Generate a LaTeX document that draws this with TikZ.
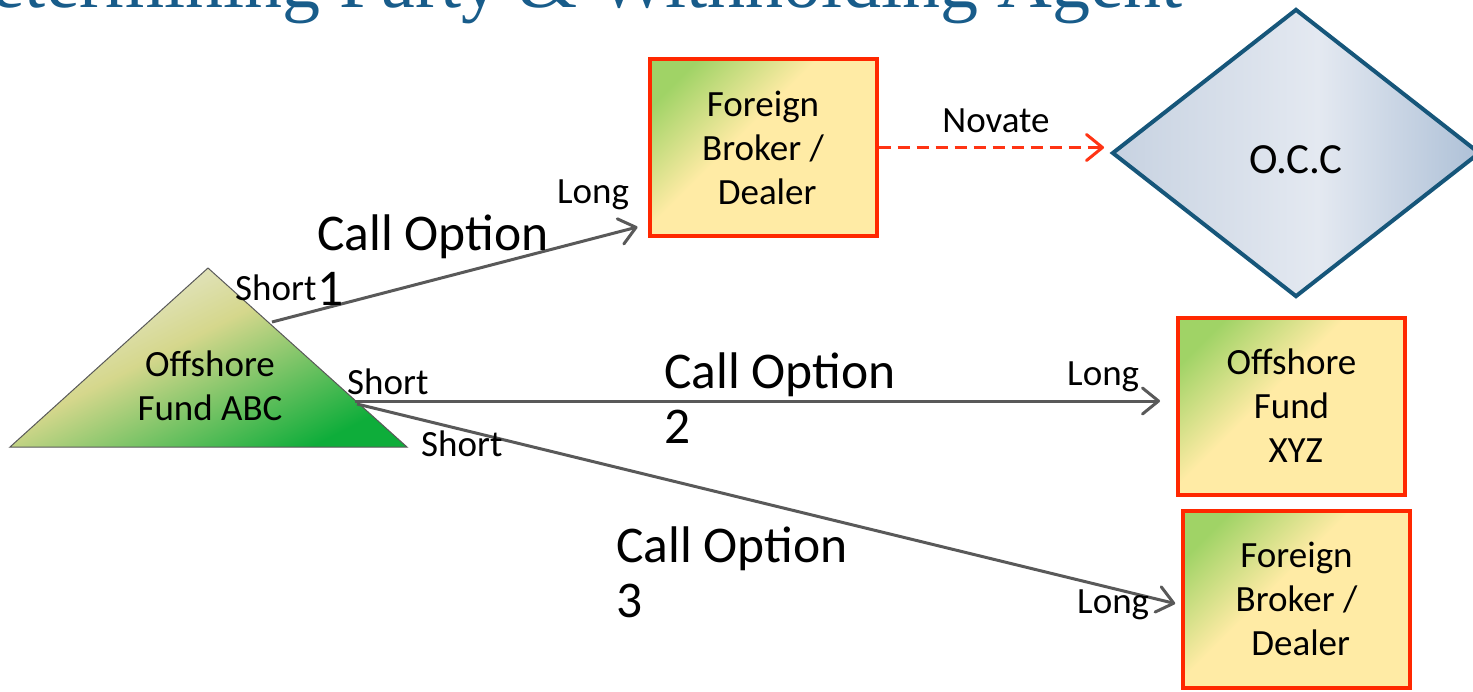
\documentclass[tikz,border=0pt]{standalone}
\usepackage{fontspec}
\setmainfont{Carlito}
\newfontfamily\titlefont{Liberation Serif}
\usetikzlibrary{shapes.geometric, arrows.meta, calc}

\definecolor{heading}{RGB}{24,92,138}
\definecolor{framered}{RGB}{255,40,0}
\definecolor{novatered}{RGB}{255,52,20}
\definecolor{legray}{RGB}{89,89,89}
\definecolor{occblue}{RGB}{22,86,122}
\definecolor{occlight}{RGB}{228,233,241}
\definecolor{occmid}{RGB}{199,210,225}
\definecolor{occdark}{RGB}{176,194,216}
\definecolor{leafgreen}{RGB}{160,211,102}
\definecolor{paleyellow}{RGB}{255,235,165}
\definecolor{apexpale}{RGB}{228,230,200}
\definecolor{olive}{RGB}{213,215,140}
\definecolor{fundgreen}{RGB}{14,173,58}

\pgfdeclarehorizontalshading{boxfade}{100bp}{color(0bp)=(leafgreen); color(23bp)=(leafgreen); color(44bp)=(paleyellow); color(100bp)=(paleyellow)}
\pgfdeclarehorizontalshading{fundfade}{100bp}{color(0bp)=(apexpale); color(30bp)=(apexpale); color(45bp)=(olive); color(75bp)=(fundgreen); color(100bp)=(fundgreen)}
\pgfdeclarehorizontalshading{occfade}{100bp}{color(0bp)=(occmid); color(25bp)=(occmid); color(53bp)=(occlight); color(74bp)=(occdark); color(100bp)=(occdark)}

\newcommand\tagfont{\fontsize{37}{44}\selectfont}
\newcommand\optfont{\fontsize{51.5}{55}\selectfont}

\begin{document}
\begin{tikzpicture}
      [
        x=1pt, y=1pt,
        party/.style={rectangle, draw=framered, line width=4pt, shading=boxfade, shading angle=-45,
          minimum width=227pt, minimum height=177pt, align=center, font=\tagfont, inner sep=0pt},
        tag/.style={anchor=base west, inner sep=0pt, font=\tagfont},
        option/.style={anchor=base west, inner sep=0pt, align=left, font=\optfont},
        leg/.style={draw=legray, line width=3pt, -{Straight Barb[length=16pt,width=26pt,round]}},
        novate/.style={draw=novatered, line width=3pt, dash pattern=on 12pt off 7pt,
          -{Straight Barb[length=16pt,width=26pt,round]}}
      ]
      \clip (0,0) rectangle (1473,-691);
      % heading, cut off by the page top
      \node [anchor=base east, inner sep=0pt, text=heading, font=\titlefont\fontsize{76}{82}\selectfont]
        (title) at (1183,-7) {Determining Party \& Withholding Agent};
      % fund ABC
      \coordinate (apex) at (208,-268);
      \coordinate (baseL) at (10,-447);
      \coordinate (baseR) at (407,-447);
      \shade [draw=black!65, line width=1pt, shading=fundfade, shading angle=-63]
        (apex) -- (baseR) -- (baseL) -- cycle;
      \node [align=center, font=\tagfont, inner sep=0pt] (abc) at (210,-386) {Offshore\\Fund ABC};
      % counterparties
      \node [party] (fbd1) at (763,-147.5) {Foreign\\Broker /\\\ Dealer};
      \node [party] (xyz) at (1291.5,-406) {Offshore\\Fund\\\ XYZ};
      \node [party] (fbd2) at (1296.5,-599) {Foreign\\Broker /\\\ Dealer};
      \node [diamond, draw=occblue, line width=4pt, shading=occfade,
        minimum width=368pt, minimum height=288pt, inner sep=0pt, text height=41pt, text depth=0pt,
        font=\fontsize{43}{50}\selectfont]
        (occ) at (1296,-153) {O.C.C};
      % option legs
      \coordinate (s1) at (272,-322);
      \coordinate (s2) at (355,-401);
      \coordinate (s3) at (357,-404);
      \coordinate (l1) at ([xshift=-10pt,yshift=11pt]fbd1.south west);
      \draw [leg] (s1) -- (l1);
      \draw [leg, shorten >=16pt] (s2) -- (s2 -| xyz.west);
      \draw [leg, shorten >=6pt] (s3) -- ([yshift=-6pt]fbd2.west);
      \draw [novate, shorten >=6pt] (fbd1.east) -- (fbd1.east -| occ.west);
      % labels
      \node [tag] (short1) at (235,-300) {Short};
      \node [tag] (short2) at (347,-394) {Short};
      \node [tag] (short3) at (421,-456) {Short};
      \node [tag] (long1) at (557,-203) {Long};
      \node [tag] (long2) at (1067,-385) {Long};
      \node [tag] (long3) at (1077,-613) {Long};
      \node [tag, anchor=base] (nov) at (996,-132) {Novate};
      \node [option] (opt1) at (317,-305) {Call Option\\1};
      \node [option] (opt2) at (664,-443) {Call Option\\2};
      \node [option] (opt3) at (616,-617) {Call Option\\3};
\end{tikzpicture}
\end{document}
